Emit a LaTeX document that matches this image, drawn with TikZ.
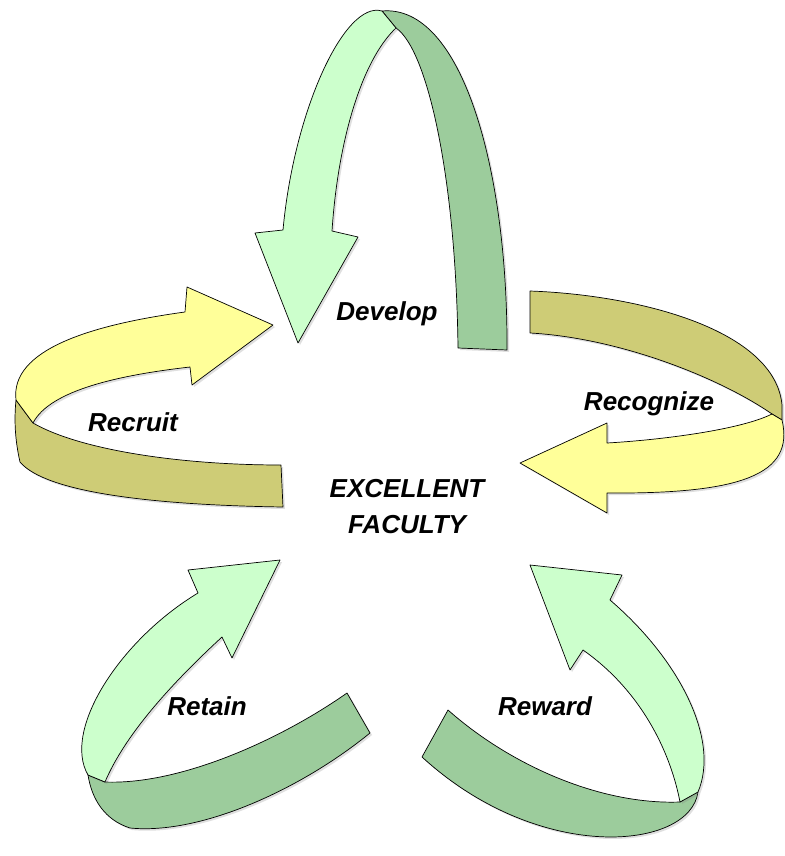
\documentclass[tikz,border=0pt]{standalone}
\usepackage{fontspec}
\setmainfont{Liberation Sans}
\usetikzlibrary{shadows}

\definecolor{leafpale}{RGB}{204,255,204}
\definecolor{leafdark}{RGB}{156,204,156}
\definecolor{strawpale}{RGB}{255,255,153}
\definecolor{strawdark}{RGB}{206,204,118}

\tikzset{
	band/.style={draw=black, line width=0.7pt, line join=round,
		drop shadow={shadow xshift=2pt, shadow yshift=-2pt, opacity=0.25}},
	lbl/.style={font=\fontsize{26}{31}\selectfont\bfseries\itshape, anchor=base, inner sep=0pt}
}

\begin{document}
\begin{tikzpicture}[x=1pt,y=-1pt]
		\fill[white] (0,0) rectangle (784,856);
		\useasboundingbox (0,0) rectangle (784,856);

		\filldraw[band, fill=leafdark] (382,11) .. controls (462,4) and (508,170) .. (507,350) -- (458,348) .. controls (456,180) and (428,50) .. (396,28) -- cycle;
		\filldraw[band, fill=leafpale] (283,230) -- (255,233) -- (298,343) -- (358,237) -- (332,231) .. controls (338,140) and (362,60) .. (396,28) -- (382,11) .. controls (345,0) and (294,110) .. (283,230) -- cycle;

		\filldraw[band, fill=strawdark] (16,400) -- (33,423) .. controls (80,450) and (180,465) .. (281,465) -- (283,507) .. controls (150,505) and (45,492) .. (20,462) .. controls (15,440) and (14,420) .. (16,400) -- cycle;
		\filldraw[band, fill=strawpale] (185,312) -- (187,287) -- (273,325) -- (192,385) -- (190,367) .. controls (120,375) and (50,390) .. (33,423) -- (16,400) .. controls (10,350) and (90,325) .. (185,312) -- cycle;

		\filldraw[band, fill=strawdark] (530,291) .. controls (640,295) and (775,330) .. (782,405) -- (782,420) -- (772,414) .. controls (720,378) and (620,338) .. (530,333) -- cycle;
		\filldraw[band, fill=strawpale] (607,443) -- (607,423) -- (520,463) -- (607,513) -- (607,493) .. controls (740,494) and (795,475) .. (782,420) -- (772,414) .. controls (740,430) and (660,440) .. (607,443) -- cycle;

		\filldraw[band, fill=leafdark] (88,775) -- (105,782) .. controls (180,785) and (280,740) .. (347,693) -- (370,733) .. controls (300,790) and (200,835) .. (130,828) .. controls (105,820) and (92,800) .. (88,775) -- cycle;
		\filldraw[band, fill=leafpale] (198,593) -- (188,570) -- (280,560) -- (232,658) -- (222,637) .. controls (170,685) and (125,735) .. (105,782) -- (88,775) .. controls (62,730) and (120,640) .. (198,593) -- cycle;

		\filldraw[band, fill=leafdark] (448,710) .. controls (510,765) and (600,805) .. (680,802) -- (698,792) .. controls (690,850) and (540,865) .. (422,757) -- cycle;
		\filldraw[band, fill=leafpale] (583,650) -- (570,670) -- (530,565) -- (622,575) -- (610,600) .. controls (680,660) and (720,740) .. (698,792) -- (680,802) .. controls (670,750) and (640,690) .. (583,650) -- cycle;

		\node[lbl] (develop) at (387,320) {Develop};
		\node[lbl] (recruit) at (133,431) {Recruit};
		\node[lbl] (recognize) at (649,410) {Recognize};
		\node[lbl] (excellent) at (407,497) {EXCELLENT};
		\node[lbl] (faculty) at (407,533) {FACULTY};
		\node[lbl] (retain) at (207,715) {Retain};
		\node[lbl] (reward) at (545,715) {Reward};
	\end{tikzpicture}
\end{document}
